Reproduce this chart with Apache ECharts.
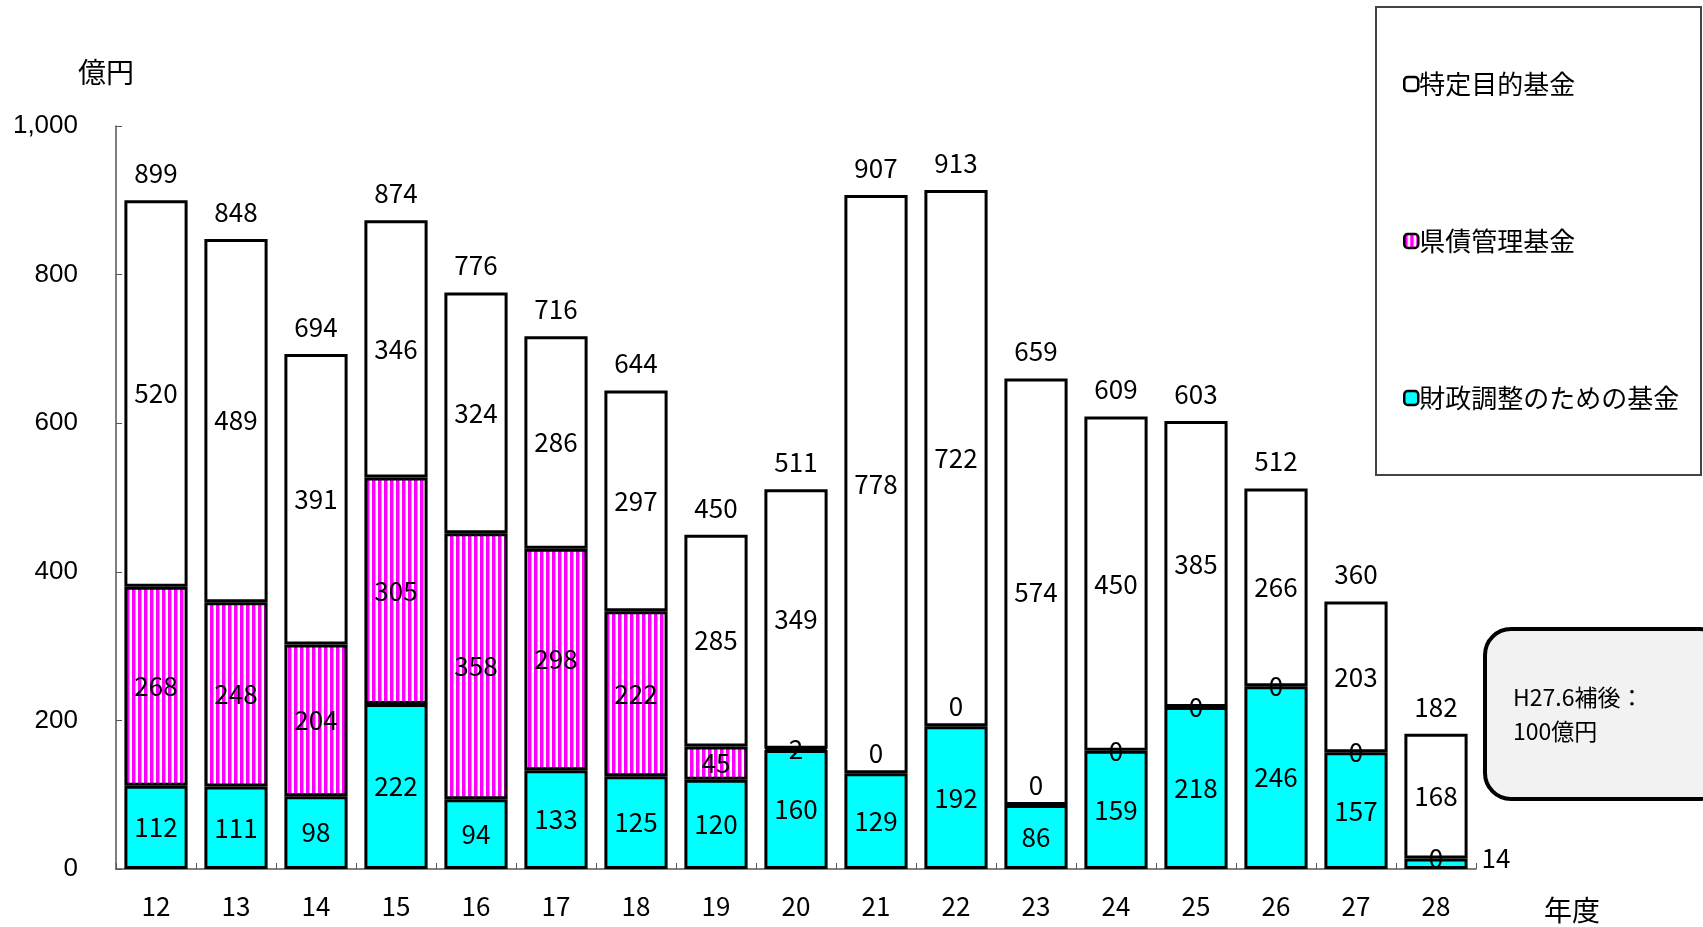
<!DOCTYPE html>
<html>
<head>
<meta charset="utf-8">
<script src="https://cdn.jsdelivr.net/npm/echarts@6/dist/echarts.min.js"></script>
<style>
  html, body { margin: 0; padding: 0; background: #fff; }
  #chart { width: 1703px; height: 927px; }
</style>
</head>
<body>
<div id="chart"></div>
<script>
// 年度（平成）
const years = ['12','13','14','15','16','17','18','19','20','21','22','23','24','25','26','27','28'];
// 財政調整のための基金（億円）
const zaiseiChosei = [112, 111, 98, 222, 94, 133, 125, 120, 160, 129, 192, 86, 159, 218, 246, 157, 14];
// 県債管理基金（億円）
const kensaiKanri = [268, 248, 204, 305, 358, 298, 222, 45, 2, 0, 0, 0, 0, 0, 0, 0, 0];
// 特定目的基金（億円）
const tokuteiMokuteki = [520, 489, 391, 346, 324, 286, 297, 285, 349, 778, 722, 574, 450, 385, 266, 203, 168];
// 合計（棒の上に表示）
const totals = [899, 848, 694, 874, 776, 716, 644, 450, 511, 907, 913, 659, 609, 603, 512, 360, 182];
// 縦軸目盛
const yTicks = [0, 200, 400, 600, 800, 1000];

const JP = '"Noto Sans CJK JP", "Noto Sans", sans-serif';
const LABEL_SIZE = 26;
// 「0」ラベルを境界線より少し上にずらす年度（21～23）
const liftedZeroYears = ['21', '22', '23'];

// 県債管理基金の縦縞模様
function stripePattern() {
  const c = document.createElement('canvas');
  c.width = 6; c.height = 10;
  const ctx = c.getContext('2d');
  ctx.fillStyle = '#ffffff';
  ctx.fillRect(0, 0, 6, 10);
  ctx.fillStyle = '#ff00ff';
  ctx.fillRect(0, 0, 3.5, 10);
  return c;
}

const barBorder = { borderColor: '#000', borderWidth: 3 };
const insideLabel = {
  show: true, position: 'inside', color: '#000',
  fontFamily: JP, fontSize: LABEL_SIZE
};

const chart = echarts.init(document.getElementById('chart'), null, { renderer: 'canvas' });

chart.setOption({
  animation: false,
  backgroundColor: '#fff',
  grid: { left: 116, right: 227, top: 126, bottom: 58, containLabel: false },
  legend: {
    orient: 'vertical',
    left: 1398, top: 66,
    itemWidth: 14, itemHeight: 14, itemGap: 131,
    data: ['特定目的基金', '県債管理基金', '財政調整のための基金'],
    textStyle: { fontFamily: JP, fontSize: 26, color: '#000', padding: [0, 0, 0, -4] },
    itemStyle: { borderWidth: 2.5 }
  },
  xAxis: {
    type: 'category',
    data: years,
    axisLine: { lineStyle: { color: '#555', width: 1.5 } },
    axisTick: { show: true, inside: true, length: 6, lineStyle: { color: '#555' } },
    axisLabel: { fontFamily: JP, fontSize: 26, color: '#000', margin: 24 }
  },
  yAxis: {
    type: 'value',
    min: yTicks[0], max: yTicks[yTicks.length - 1], interval: 200,
    name: '億円',
    nameLocation: 'end',
    nameGap: 40,
    nameTextStyle: { fontFamily: JP, fontSize: 28, color: '#000', align: 'center', padding: [0, 20, 0, 0] },
    axisLine: { show: true, lineStyle: { color: '#555', width: 1.5 } },
    axisTick: { show: true, inside: true, length: 6, lineStyle: { color: '#555' } },
    splitLine: { show: false },
    axisLabel: {
      fontFamily: '"Liberation Sans", Arial, sans-serif', fontSize: 26, color: '#000', margin: 38,
      formatter: v => v.toLocaleString('en-US')
    }
  },
  series: [
    {
      name: '財政調整のための基金',
      type: 'bar', stack: 'fund', barCategoryGap: '21%',
      itemStyle: Object.assign({ color: '#00ffff' }, barBorder),
      label: insideLabel,
      data: zaiseiChosei.map(v => v < 30
        ? { value: v, label: { position: 'right', distance: 14, offset: [0, -6] } }
        : v)
    },
    {
      name: '県債管理基金',
      type: 'bar', stack: 'fund',
      itemStyle: Object.assign({ color: { image: stripePattern(), repeat: 'repeat' } }, barBorder),
      label: insideLabel,
      data: kensaiKanri.map((v, i) => {
        if (v !== 0) return v;
        const item = { value: v, itemStyle: { borderWidth: 0 } };
        if (liftedZeroYears.includes(years[i])) item.label = { offset: [0, -20] };
        return item;
      })
    },
    {
      name: '特定目的基金',
      type: 'bar', stack: 'fund',
      itemStyle: Object.assign({ color: '#ffffff' }, barBorder),
      label: insideLabel,
      data: tokuteiMokuteki
    },
    {
      // 合計ラベル用（高さ0の棒）
      name: '合計',
      type: 'bar', stack: 'fund',
      itemStyle: { color: 'transparent', borderWidth: 0 },
      label: {
        show: true, position: 'top', distance: 14, color: '#000',
        fontFamily: JP, fontSize: LABEL_SIZE,
        formatter: p => String(totals[p.dataIndex])
      },
      data: totals.map(() => 0)
    }
  ],
  graphic: [
    {
      type: 'rect', z: 0,
      shape: { x: 1376, y: 7, width: 325, height: 468 },
      style: { fill: 'none', stroke: '#444', lineWidth: 2 }
    },
    {
      type: 'text', z: 5,
      left: 1544, top: 896,
      style: {
        text: '年度',
        font: '28px "Noto Sans CJK JP", sans-serif',
        fill: '#000'
      }
    },
    {
      type: 'rect', z: 10,
      shape: { x: 1485, y: 629, width: 240, height: 170, r: 26 },
      style: { fill: '#f2f2f2', stroke: '#000', lineWidth: 4 }
    },
    {
      type: 'text', z: 11,
      left: 1513, top: 680,
      style: {
        text: 'H27.6補後：\n100億円',
        font: '23px "Noto Sans CJK JP", sans-serif',
        lineHeight: 34,
        fill: '#000'
      }
    }
  ]
});
</script>
</body>
</html>
